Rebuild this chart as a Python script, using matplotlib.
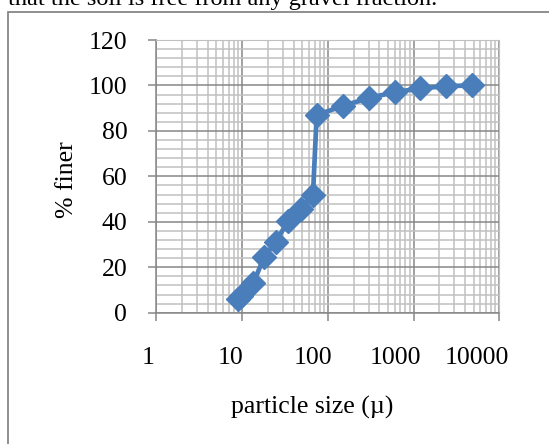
import numpy as np
import matplotlib.pyplot as plt
from matplotlib.ticker import FixedLocator, NullFormatter
from matplotlib.transforms import ScaledTranslation
from matplotlib.patches import Rectangle

# grain size distribution
size = [9, 9.6, 13.5, 18, 24.5, 34.5, 48, 67, 74, 150, 300, 600, 1180, 2360, 4750]
finer = [6, 7.5, 13, 24.5, 31, 40.5, 45.5, 52, 87, 91, 94.5, 97, 98.7, 99.7, 100]

x_ticks = [1, 10, 100, 1000, 10000]
x_labels = ['1', '10', '100', '1000', '10000']
y_ticks = [0, 20, 40, 60, 80, 100, 120]

plt.rcParams['font.family'] = ['Liberation Serif', 'DejaVu Serif']

fig = plt.figure(figsize=(5.49, 4.44), dpi=100)
ax = fig.add_axes([0.285, 0.2957, 0.6245, 0.6142])

major = '#878787'
minor = '#c0c0c0'
blue = '#4a7ebb'

ax.set_xscale('log')
ax.set_xlim(1, 10000)
ax.set_ylim(0, 120)

ax.xaxis.set_major_locator(FixedLocator(x_ticks))
ax.xaxis.set_minor_locator(FixedLocator([m * 10 ** d for d in range(4) for m in range(2, 10)]))
ax.xaxis.set_minor_formatter(NullFormatter())
ax.set_xticklabels(x_labels)
ax.yaxis.set_major_locator(FixedLocator(y_ticks))
ax.yaxis.set_minor_locator(FixedLocator([v for v in range(0, 121, 4) if v % 20]))

ax.grid(which='minor', color=minor, lw=1.1)
ax.grid(which='major', color=major, lw=1.1)
ax.set_axisbelow(True)

ax.plot(size, finer, color=blue, lw=3.4, marker='D', ms=12, mfc=blue, mec=blue,
        clip_on=False, zorder=3)

for s in ['top', 'right']:
    ax.spines[s].set_color(minor)
for s in ['left', 'bottom']:
    ax.spines[s].set_color(major)
    ax.spines[s].set_linewidth(1.1)

ax.tick_params(which='major', length=6, width=1.1, color=major, labelsize=18.5)
ax.tick_params(axis='y', which='major', pad=15)
ax.tick_params(axis='x', which='major', pad=19)
ax.tick_params(which='minor', length=0)

# Excel-like label placement (labels sit a bit left of their tick)
for i, lab in enumerate(ax.get_xticklabels()):
    lab.set_transform(lab.get_transform() + ScaledTranslation(-(8 + 3.5 * i) / 100, 0, fig.dpi_scale_trans))

fig.text(312.5 / 549, 1 - 407 / 444, 'particle size (\u00b5)', ha='center', va='center', fontsize=18.5)
fig.text(67 / 549, 1 - 180 / 444, '% finer', ha='center', va='center', rotation=90, fontsize=18.5)

# surrounding document text and chart frame
fig.text(437 / 549, 1 - 5 / 444, 'that the soil is free from any gravel fraction.',
         ha='right', va='baseline', fontsize=17.5)
fig.patches.append(Rectangle((8 / 549, -0.05), 1.2, (1 - 12 / 444) + 0.05,
                             transform=fig.transFigure, fill=False, ec='#868686', lw=1.3))

fig.savefig('out.png', dpi=100)
